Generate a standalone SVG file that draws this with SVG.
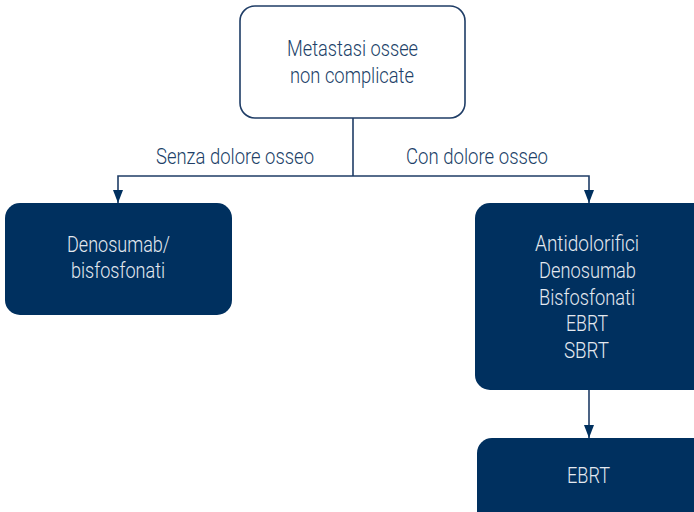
<svg xmlns="http://www.w3.org/2000/svg" width="694" height="512" viewBox="0 0 694 512">
<defs>
<style>
text{font-family:"Roboto","Liberation Sans",sans-serif;font-size:22px;font-weight:300;text-anchor:middle}
.dark{fill:#213f68}
.light{fill:#e4e9f0}
.box{fill:#00305f}
.wire{stroke:#1f3d66;stroke-width:1.6;fill:none}
</style>
<marker id="ah" markerWidth="13" markerHeight="10" refX="13" refY="5" orient="auto" markerUnits="userSpaceOnUse" viewBox="0 0 13 10">
<path d="M0,0 L13,5 L0,10 Z" fill="#00305f"/>
</marker>
</defs>
<rect width="694" height="512" fill="#ffffff"/>
<g id="connectors">
<path class="wire" d="M353,118 V176"/>
<path class="wire" d="M353,176 H118 V203" marker-end="url(#ah)"/>
<path class="wire" d="M353,176 H589 V203" marker-end="url(#ah)"/>
<path class="wire" d="M589,390 V438" marker-end="url(#ah)"/>
<text class="dark" x="235" y="164" textLength="158" lengthAdjust="spacingAndGlyphs">Senza dolore osseo</text>
<text class="dark" x="477" y="164" textLength="142" lengthAdjust="spacingAndGlyphs">Con dolore osseo</text>
</g>
<g id="n-top">
<rect x="240" y="6" width="225" height="112" rx="15" fill="#ffffff" stroke="#1f3d66" stroke-width="1.6"/>
<text class="dark" x="352.5" y="56" textLength="131" lengthAdjust="spacingAndGlyphs">Metastasi ossee</text>
<text class="dark" x="352" y="83" textLength="124" lengthAdjust="spacingAndGlyphs">non complicate</text>
</g>
<g id="n-left">
<rect class="box" x="5" y="203" width="227" height="112" rx="15"/>
<text class="light" x="118.5" y="252" textLength="103" lengthAdjust="spacingAndGlyphs">Denosumab/</text>
<text class="light" x="118" y="278" textLength="94" lengthAdjust="spacingAndGlyphs">bisfosfonati</text>
</g>
<g id="n-right">
<rect class="box" x="475" y="203" width="240" height="187" rx="15"/>
<text class="light" x="587" y="251" textLength="104" lengthAdjust="spacingAndGlyphs">Antidolorifici</text>
<text class="light" x="587.5" y="278" textLength="97" lengthAdjust="spacingAndGlyphs">Denosumab</text>
<text class="light" x="587" y="305" textLength="96" lengthAdjust="spacingAndGlyphs">Bisfosfonati</text>
<text class="light" x="587" y="331" textLength="42" lengthAdjust="spacingAndGlyphs">EBRT</text>
<text class="light" x="586.5" y="358" textLength="45" lengthAdjust="spacingAndGlyphs">SBRT</text>
</g>
<g id="n-bottom">
<rect class="box" x="477" y="438" width="240" height="90" rx="15"/>
<text class="light" x="588.5" y="483" textLength="43" lengthAdjust="spacingAndGlyphs">EBRT</text>
</g>
</svg>
